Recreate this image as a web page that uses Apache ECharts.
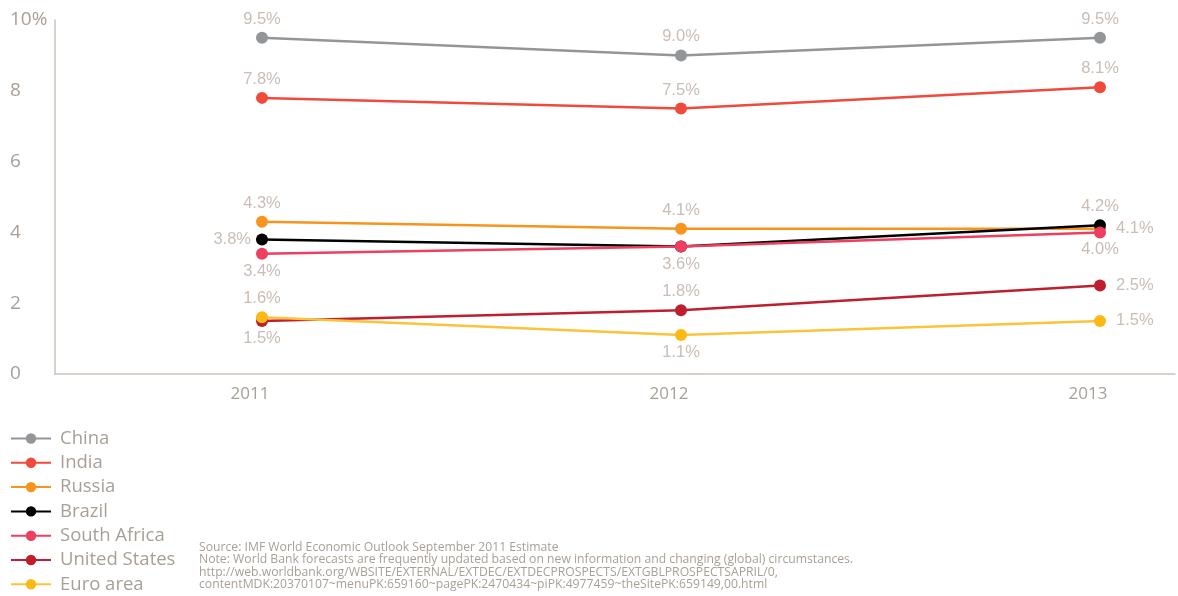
<!DOCTYPE html>
<html>
<head>
<meta charset="utf-8">
<script src="https://cdn.jsdelivr.net/npm/echarts@6/dist/echarts.min.js"></script>
<style>html,body{margin:0;padding:0;background:#fff}#c{width:1178px;height:596px}</style>
</head>
<body>
<div id="c"></div>
<script>
const years = [2011, 2012, 2013];
const seriesNames = ['China', 'India', 'Russia', 'Brazil', 'South Africa', 'United States', 'Euro area'];
const china = [9.5, 9.0, 9.5];
const india = [7.8, 7.5, 8.1];
const russia = [4.3, 4.1, 4.1];
const brazil = [3.8, 3.6, 4.2];
const southAfrica = [3.4, 3.6, 4.0];
const unitedStates = [1.5, 1.8, 2.5];
const euroArea = [1.6, 1.1, 1.5];
const yTicks = [0, 2, 4, 6, 8, 10];
const sourceLines = [
  'Source: IMF World Economic Outlook September 2011 Estimate',
  'Note: World Bank forecasts are frequently updated based on new information and changing (global) circumstances.',
  'http://web.worldbank.org/WBSITE/EXTERNAL/EXTDEC/EXTDECPROSPECTS/EXTGBLPROSPECTSAPRIL/0,',
  'contentMDK:20370107~menuPK:659160~pagePK:2470434~piPK:4977459~theSitePK:659149,00.html'
];

const values = [china, india, russia, brazil, southAfrica, unitedStates, euroArea];
const colors = ['#939598', '#ef4a3c', '#f7941e', '#000000', '#ee3f60', '#be1e2d', '#fdb913'];
const lineColors = ['#939598', '#ef4a3c', '#f7941e', '#000000', '#ee3f60', '#be1e2d', '#fcc33a'];
// label placement per point (null = no label)
const labelPos = [
  ['top', 'top', 'top'],
  ['top', 'top', 'top'],
  ['top', 'top', 'right'],
  ['left', null, 'top'],
  ['bottom', 'bottom', 'bottom'],
  ['bottom', 'top', 'right'],
  ['top', 'bottom', 'right']
];
const labelDist = { top: 4, bottom: 3, left: 5, right: 10 };
const labelColor = '#c9bdb5';
const axisTextColor = '#a89f96';

const series = seriesNames.map((name, si) => ({
  name: name,
  type: 'line',
  z: 10 + si,
  symbol: 'circle',
  symbolSize: 12,
  color: colors[si],
  lineStyle: { width: 2.5, color: lineColors[si] },
  itemStyle: { color: colors[si] },
  data: years.map((y, i) => {
    const p = labelPos[si][i];
    return {
      value: [y, values[si][i]],
      label: p ? {
        show: true,
        position: p,
        distance: labelDist[p],
        formatter: (prm) => prm.value[1].toFixed(1) + '%',
        color: labelColor,
        fontSize: 16.5,
        fontFamily: 'Liberation Sans, Arial, sans-serif'
      } : { show: false }
    };
  })
}));

const chart = echarts.init(document.getElementById('c'), null, { renderer: 'canvas' });
chart.setOption({
  animation: false,
  backgroundColor: '#ffffff',
  grid: { left: 55, right: 3, top: 20, bottom: 222, containLabel: false },
  xAxis: {
    type: 'value',
    min: 2010.506,
    max: 2013.179,
    axisLine: { show: true, lineStyle: { color: '#cbc2bb', width: 1.5 } },
    axisTick: { show: false },
    splitLine: { show: false },
    axisLabel: {
      customValues: years,
      formatter: (v) => String(v),
      color: axisTextColor,
      fontSize: 17,
      margin: 12,
      padding: [0, 24, 0, 0],
      fontFamily: 'Open Sans, Noto Sans, sans-serif'
    }
  },
  yAxis: {
    type: 'value',
    min: 0,
    max: 10,
    interval: 2,
    axisLine: { show: true, lineStyle: { color: '#cbc2bb', width: 1.5 } },
    axisTick: { show: false },
    splitLine: { show: false },
    axisLabel: {
      customValues: yTicks,
      formatter: (v) => v === 10 ? '10%' : String(v),
      color: axisTextColor,
      fontSize: 19,
      align: 'left',
      margin: 45,
      fontFamily: 'Open Sans, Noto Sans, sans-serif'
    }
  },
  legend: {
    orient: 'vertical',
    left: 10,
    top: 429,
    padding: 0,
    itemWidth: 40,
    itemHeight: 13,
    itemGap: 5.3,
    data: seriesNames,
    textStyle: {
      color: axisTextColor,
      fontSize: 18.5,
      lineHeight: 19,
      padding: [0, 0, 0, 4],
      fontFamily: 'Open Sans, Noto Sans, sans-serif'
    }
  },
  graphic: [{
    type: 'text',
    left: 199,
    top: 541,
    style: {
      text: sourceLines.join('\n'),
      fill: axisTextColor,
      fontSize: 12.2,
      lineHeight: 12.5,
      fontFamily: 'Open Sans, Noto Sans, sans-serif'
    }
  }],
  series: series
});
</script>
</body>
</html>
